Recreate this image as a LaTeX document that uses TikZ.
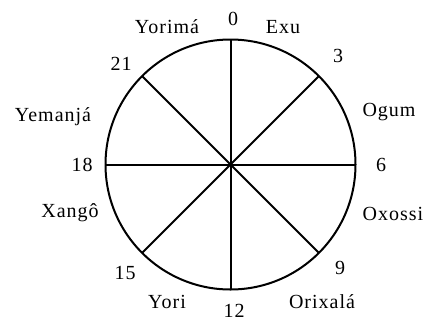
\documentclass[tikz,border=0pt]{standalone}
\usepackage{fontspec}
\setmainfont[LetterSpace=5]{Liberation Serif}
\begin{document}
\begin{tikzpicture}[x=1pt,y=-1pt,
  lbl/.style={font=\fontsize{20}{22}\selectfont, inner sep=0pt, anchor=center},
  ln/.style={line width=2pt}]
\useasboundingbox (0,0) rectangle (428,322);
\node[circle, draw, ln, minimum size=250pt, inner sep=0pt, outer sep=0pt] (c) at (230.5,164.5) {};
\draw[ln] (c.90) -- (c.270);
\draw[ln] (c.0) -- (c.180);
\draw[ln] (c.45) -- (c.225);
\draw[ln] (c.135) -- (c.315);
\node[lbl] (n0) at (233,19) {0};
\node[lbl] (n3) at (338,56) {3};
\node[lbl] (n6) at (381,165) {6};
\node[lbl] (n9) at (340,268) {9};
\node[lbl] (n12) at (234,311) {12};
\node[lbl] (n15) at (125,273) {15};
\node[lbl] (n18) at (82,165) {18};
\node[lbl] (n21) at (121,64) {21};
\node[lbl] (exu) at (283,27) {Exu};
\node[lbl] (yorima) at (167,27) {Yorimá};
\node[lbl] (ogum) at (389,112) {Ogum};
\node[lbl] (oxossi) at (393,214) {Oxossi};
\node[lbl] (orixala) at (322,302) {Orixalá};
\node[lbl] (yori) at (167,302) {Yori};
\node[lbl] (xango) at (70,213) {Xangô};
\node[lbl] (yemanja) at (53,117) {Yemanjá};
\end{tikzpicture}
\end{document}
